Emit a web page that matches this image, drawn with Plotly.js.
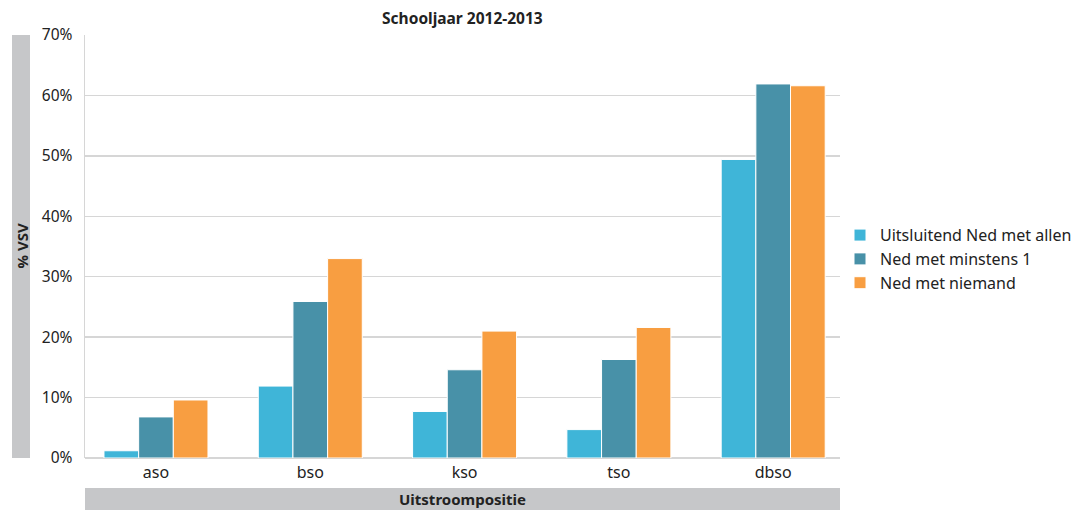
<!DOCTYPE html>
<html>
<head>
<meta charset="utf-8">
<script src="https://cdn.plot.ly/plotly-3.0.1.min.js"></script>
<style>html,body{margin:0;padding:0;background:#fff;}#chart{width:1086px;height:510px;}</style>
</head>
<body>
<div id="chart"></div>
<script>
const categories = ["aso", "bso", "kso", "tso", "dbso"];
const seriesNames = ["Uitsluitend Ned met allen", "Ned met minstens 1", "Ned met niemand"];
const uitsluitendNed = [1.2, 11.9, 7.7, 4.7, 49.4];
const nedMinstens1 = [6.8, 25.9, 14.6, 16.3, 61.9];
const nedNiemand = [9.6, 33.0, 21.0, 21.6, 61.6];
const yTickVals = [0, 10, 20, 30, 40, 50, 60, 70];
const yTickText = ["0%", "10%", "20%", "30%", "40%", "50%", "60%", "70%"];
const colors = ["#3fb5d8", "#4891a8", "#f89e41"];

const FONT = "Noto Sans, Open Sans, sans-serif";
const seriesData = [uitsluitendNed, nedMinstens1, nedNiemand];
const traces = seriesData.map((vals, i) => ({
  type: "bar",
  name: seriesNames[i],
  x: categories,
  y: vals,
  marker: {color: colors[i], line: {color: "#ffffff", width: 1}},
  hoverinfo: "x+y+name"
}));

const layout = {
  width: 1086,
  height: 510,
  margin: {l: 85, r: 246, t: 35, b: 52, autoexpand: false},
  paper_bgcolor: "#ffffff",
  plot_bgcolor: "#ffffff",
  barmode: "group",
  bargap: 0.326,
  bargroupgap: 0,
  font: {family: FONT, size: 15, color: "#222222"},
  title: {
    text: "<b>Schooljaar 2012-2013</b>",
    x: 0.4258, xanchor: "center",
    y: 0.963, yanchor: "middle",
    font: {family: FONT, size: 15.5, color: "#222222"}
  },
  xaxis: {
    type: "category",
    range: [-0.46, 4.433],
    showgrid: false,
    showline: false,
    ticks: "",
    ticklabelstandoff: 3,
    tickfont: {family: FONT, size: 16, color: "#222222"},
    fixedrange: true
  },
  yaxis: {
    range: [0, 70],
    tickvals: yTickVals,
    ticktext: yTickText,
    showgrid: true,
    gridcolor: "#d6d6d6",
    gridwidth: 1.5,
    zeroline: true,
    zerolinecolor: "#d6d6d6",
    zerolinewidth: 1.5,
    showline: true,
    linecolor: "#d6d6d6",
    linewidth: 1.5,
    ticks: "",
    ticklabelstandoff: 8,
    tickfont: {family: FONT, size: 15.5, color: "#222222"},
    fixedrange: true
  },
  legend: {
    x: 1.0, xanchor: "left", xref: "paper",
    y: 0.47, yanchor: "middle",
    font: {family: FONT, size: 16, color: "#222222"},
    itemwidth: 30,
    tracegroupgap: 0,
    bgcolor: "rgba(0,0,0,0)"
  },
  shapes: [
    {type: "rect", xref: "paper", yref: "paper",
     x0: -73/755, x1: -55/755, y0: 0, y1: 1,
     fillcolor: "#c6c7c9", line: {width: 0}, layer: "below"},
    {type: "rect", xref: "paper", yref: "paper",
     x0: 0, x1: 1, y0: -52/423, y1: -30/423,
     fillcolor: "#c6c7c9", line: {width: 0}, layer: "below"}
  ],
  annotations: [
    {text: "<b>% VSV</b>", xref: "paper", yref: "paper",
     x: -64/755, y: 0.5, xanchor: "center", yanchor: "middle",
     textangle: -90, showarrow: false,
     font: {family: FONT, size: 15, color: "#222222"}},
    {text: "<b>Uitstroompositie</b>", xref: "paper", yref: "paper",
     x: 0.5, y: -41/423, xanchor: "center", yanchor: "middle",
     showarrow: false,
     font: {family: FONT, size: 15, color: "#222222"}}
  ]
};

Plotly.newPlot("chart", traces, layout, {displayModeBar: false, staticPlot: true});
</script>
</body>
</html>
